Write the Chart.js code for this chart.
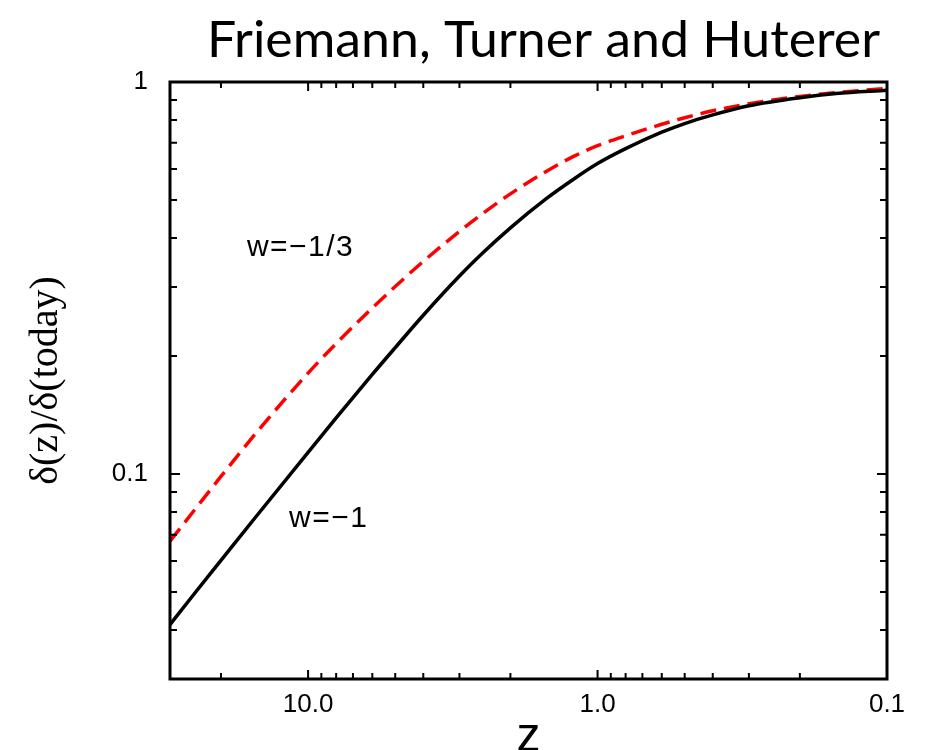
<!DOCTYPE html>
<html>
<head>
<meta charset="utf-8">
<script src="https://cdn.jsdelivr.net/npm/chart.js@4"></script>
<style>
  html, body { margin: 0; padding: 0; background: #fff; }
</style>
</head>
<body>
<canvas id="growth_chart" width="927" height="750"></canvas>
<script>
// redshift z (axis runs from high z on the left to today on the right)
const redshift = [30, 25, 20, 15, 10, 8, 6, 5, 4, 3, 2.5, 2, 1.5, 1.2, 1, 0.8, 0.6, 0.5, 0.4, 0.3, 0.2, 0.15, 0.1];
// delta(z)/delta(today)
const growthLambda = [0.0413, 0.0490, 0.0602, 0.0785, 0.1136, 0.1390, 0.1795, 0.2101, 0.2541, 0.3199, 0.3656, 0.4246, 0.5047, 0.5675, 0.6194, 0.6761, 0.7447, 0.7834, 0.8241, 0.8696, 0.9120, 0.9346, 0.9528];
const growthThird = [0.0674, 0.0800, 0.0986, 0.1282, 0.1809, 0.2152, 0.2653, 0.3008, 0.3486, 0.4159, 0.4611, 0.5183, 0.5922, 0.6478, 0.6878, 0.7288, 0.7801, 0.8105, 0.8443, 0.8802, 0.9186, 0.9395, 0.9627];

const seriesNames = ["w=\u22121", "w=\u22121/3"];
const xTickValues = [10, 1, 0.1];
const yTickValues = [1, 0.1];
const xMinorTicks = [20, 9, 8, 7, 6, 5, 4, 3, 2, 0.9, 0.8, 0.7, 0.6, 0.5, 0.4, 0.3, 0.2];
const yMinorTicks = [0.9, 0.8, 0.7, 0.6, 0.5, 0.4, 0.3, 0.2, 0.09, 0.08, 0.07, 0.06, 0.05, 0.04];
// where the curve names sit, in data units [z, value]
const nameSpots = [[8.55, 0.0767], [10.7, 0.378]];
const titleText = "Friemann, Turner and Huterer";

// inward ticks on all four sides, the box, curve names and the big title
const frameTicks = {
  id: "frameTicks",
  afterDatasetsDraw(chart) {
    const { ctx, chartArea: a, scales: { x, y } } = chart;
    ctx.save();
    ctx.strokeStyle = "#000";
    ctx.lineWidth = 2;
    ctx.beginPath();
    const tickX = (v, len) => {
      const px = x.getPixelForValue(v);
      ctx.moveTo(px, a.bottom); ctx.lineTo(px, a.bottom - len);
      ctx.moveTo(px, a.top); ctx.lineTo(px, a.top + len);
    };
    const tickY = (v, len) => {
      const py = y.getPixelForValue(v);
      ctx.moveTo(a.left, py); ctx.lineTo(a.left + len, py);
      ctx.moveTo(a.right, py); ctx.lineTo(a.right - len, py);
    };
    xTickValues.forEach(v => tickX(v, 9));
    xMinorTicks.forEach(v => tickX(v, 6));
    yTickValues.forEach(v => tickY(v, 10));
    yMinorTicks.forEach(v => tickY(v, 7));
    ctx.stroke();
    ctx.lineWidth = 3;
    ctx.strokeRect(a.left, a.top, a.right - a.left, a.bottom - a.top);

    ctx.fillStyle = "#000";
    ctx.font = "30px 'Liberation Sans', Arial, sans-serif";
    ctx.textAlign = "center";
    ctx.textBaseline = "middle";
    ctx.letterSpacing = "1.5px";
    nameSpots.forEach((p, i) => {
      ctx.fillText(seriesNames[i], x.getPixelForValue(p[0]) + 1, y.getPixelForValue(p[1]));
    });
    ctx.restore();
  },
  afterDraw(chart) {
    const ctx = chart.ctx;
    ctx.save();
    ctx.fillStyle = "#000";
    ctx.font = "50px Lato, 'Open Sans', sans-serif";
    ctx.textBaseline = "alphabetic";
    ctx.textAlign = "left";
    const w = ctx.measureText(titleText).width;
    ctx.translate(207, 57);
    ctx.scale(673 / w, 1);
    ctx.fillText(titleText, 0, 0);
    ctx.restore();
  }
};

const ctx = document.getElementById("growth_chart").getContext("2d");
const growthChart = new Chart(ctx, {
  type: "line",
  data: {
    datasets: [
      {
        label: seriesNames[0],
        data: redshift.map((z, i) => ({ x: z, y: growthLambda[i] })),
        borderColor: "#000000",
        borderWidth: 3.5,
        pointRadius: 0,
        fill: false,
        cubicInterpolationMode: "monotone",
      },
      {
        label: seriesNames[1],
        data: redshift.map((z, i) => ({ x: z, y: growthThird[i] })),
        borderColor: "#ff0000",
        borderWidth: 3.5,
        borderDash: [16, 8],
        pointRadius: 0,
        fill: false,
        cubicInterpolationMode: "monotone",
      },
    ],
  },
  options: {
    responsive: false,
    animation: false,
    layout: {
      padding: { top: 82, right: 40, left: 0, bottom: 0 },
    },
    plugins: {
      legend: { display: false },
      tooltip: { enabled: false },
      title: { display: false },
    },
    scales: {
      x: {
        type: "logarithmic",
        reverse: true,
        min: 0.1,
        max: 30,
        grid: { display: false },
        border: { display: false },
        afterBuildTicks: (scale) => {
          scale.ticks = xTickValues.map(v => ({ value: v }));
        },
        afterFit: (scale) => {
          scale.height = 71;
        },
        ticks: {
          padding: 2,
          color: "#000",
          autoSkip: false,
          maxRotation: 0,
          font: { family: "'Liberation Sans', Arial, sans-serif", size: 26 },
          callback: (v) => Number(v).toFixed(1),
        },
        title: {
          display: true,
          text: "z",
          color: "#000",
          padding: 0,
          font: { family: "'Liberation Sans', Arial, sans-serif", size: 48, lineHeight: 0.5 },
        },
      },
      y: {
        type: "logarithmic",
        min: 0.03,
        max: 1,
        grid: { display: false },
        border: { display: false },
        afterBuildTicks: (scale) => {
          scale.ticks = yTickValues.map(v => ({ value: v }));
        },
        afterFit: (scale) => {
          scale.width = 170;
        },
        ticks: {
          padding: 14,
          color: "#000",
          autoSkip: false,
          font: { family: "'Liberation Sans', Arial, sans-serif", size: 26 },
          callback: (v) => String(v),
        },
        title: {
          display: true,
          text: "\u03b4(z)/\u03b4(today)",
          color: "#000",
          padding: { top: 22, bottom: 0 },
          font: { family: "'Liberation Serif', 'Times New Roman', serif", size: 40 },
        },
      },
    },
  },
  plugins: [frameTicks],
});
</script>
</body>
</html>
